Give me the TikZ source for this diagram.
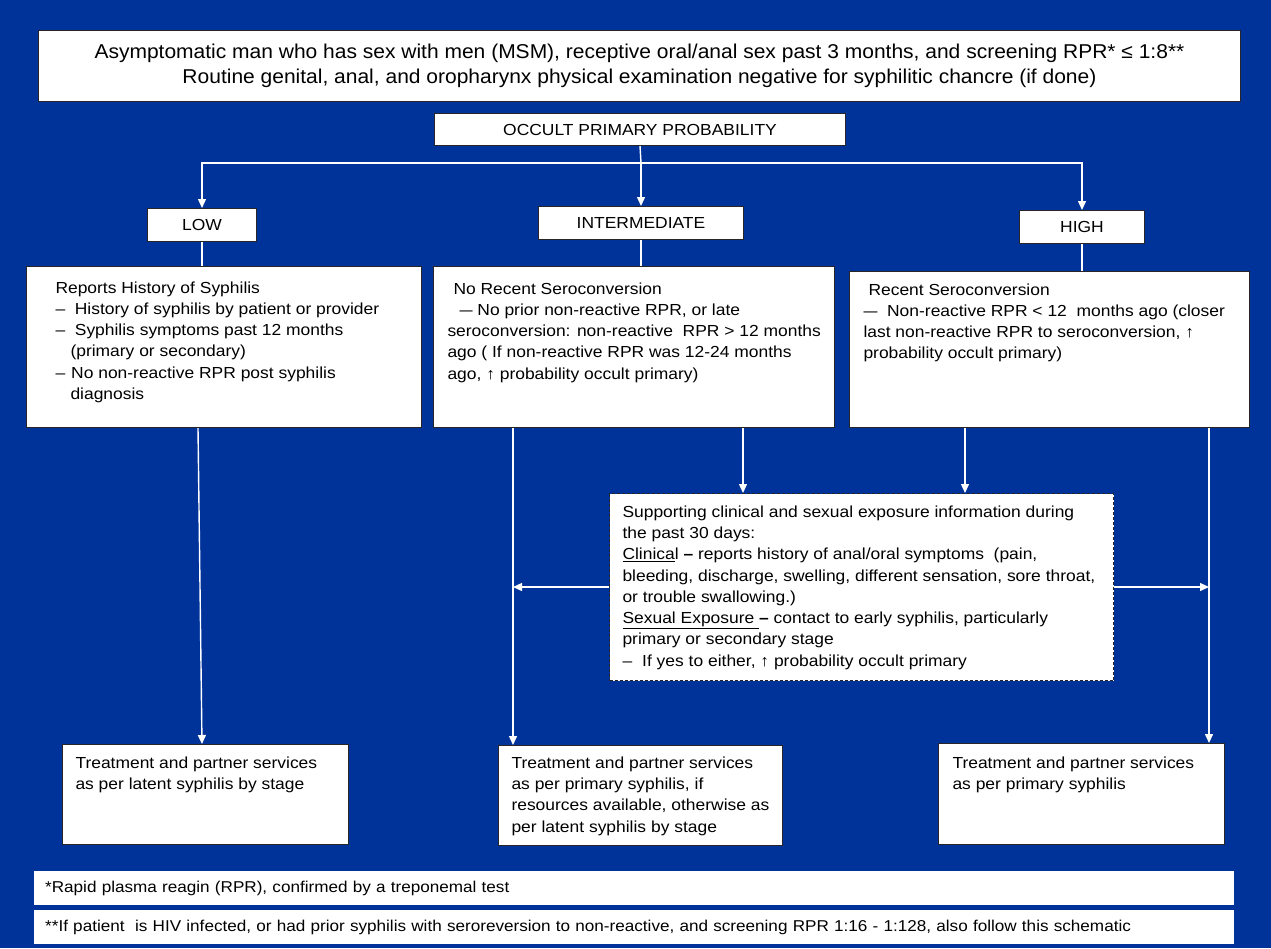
\documentclass[tikz,border=0pt]{standalone}
\usepackage{fontspec}
\setmainfont{Liberation Sans}
\newfontfamily\boxfamily[FakeStretch=1.09]{Liberation Sans}
\newfontfamily\topfamily[FakeStretch=1.05]{Liberation Sans}
\usetikzlibrary{arrows.meta}
\definecolor{bgblue}{RGB}{0,51,153}
\newcommand{\boxfont}{\boxfamily\fontsize{16}{21.3}\selectfont}
\newcommand{\cellbox}[5]{\parbox[t][#2pt][t]{#1pt}{\raggedright\leftskip=#3pt\vspace*{#4pt}#5}}
\newcommand{\shortdash}[1]{\scalebox{#1}[1]{—}}
\tikzset{card/.style={draw=black!85, fill=white, line width=1pt, anchor=north west, font=\boxfont},
  textcard/.style={card, inner sep=0pt},
  notecard/.style={fill=white, anchor=north west, inner xsep=11pt, inner ysep=0pt, align=left,
    text width=1178pt, minimum height=34pt, font=\boxfamily\fontsize{15.7}{18}\selectfont},
  conn/.style={white, line width=1.4pt},
  arr/.style={conn, -{Triangle[width=8pt,length=9pt]}}}

\begin{document}
\begin{tikzpicture}[x=1pt, y=-1pt]
      \fill[bgblue] (0,0) rectangle (1271,948);
      \useasboundingbox (0,0) rectangle (1271,948);

      \node [card, align=center, minimum width=1202pt, minimum height=71pt, font=\topfamily\fontsize{20}{25}\selectfont] (top) at (38,30) {Asymptomatic man who has sex with men (MSM), receptive oral/anal sex past 3 months, and screening RPR* ≤ 1:8**\\Routine genital, anal, and oropharynx physical examination negative for syphilitic chancre (if done)};
      \node [card, minimum width=411pt, minimum height=32pt] (occult) at (434,113) {OCCULT PRIMARY PROBABILITY};

      \node [card, minimum width=109pt, minimum height=33pt] (low) at (147,208) {LOW};
      \node [card, minimum width=205pt, minimum height=33pt] (inter) at (538,206) {INTERMEDIATE};
      \node [card, minimum width=125pt, minimum height=33pt] (high) at (1019,210) {HIGH};

      \node [textcard] (hist) at (26,266) {\cellbox{395}{161}{29}{15}{Reports History of Syphilis\\
        –~~History of syphilis by patient or provider\\
        –~~Syphilis symptoms past 12 months\\
        \hspace*{15pt}(primary or secondary)\\
        –\hspace*{6pt}No non-reactive RPR post syphilis\\
        \hspace*{15pt}diagnosis}};
      \node [textcard] (norec) at (433,266) {\cellbox{401}{161}{14}{16}{\hspace*{6pt}No Recent Seroconversion\\
        \hspace*{12pt}\shortdash{0.75} No prior non-reactive RPR, or late\\
        seroconversion: non-reactive~ RPR > 12 months\\
        ago ( If non-reactive RPR was 12-24 months\\
        ago, ↑ probability occult primary)}};
      \node [textcard] (recent) at (849,271) {\cellbox{400}{156}{14}{12}{\hspace*{5pt}Recent Seroconversion\\
        \shortdash{0.8}~~Non-reactive RPR < 12~ months ago (closer\\
        last non-reactive RPR to seroconversion, ↑\\
        probability occult primary)}};

      \node [textcard, dash pattern=on 3pt off 2pt] (support) at (609,493) {\cellbox{504}{187}{13}{12}{Supporting clinical and sexual exposure information during\\
        the past 30 days:\\
        \underline{Clinica}l \textbf{–} reports history of anal/oral symptoms~ (pain,\\
        bleeding, discharge, swelling, different sensation, sore throat,\\
        or trouble swallowing.)\\
        \underline{Sexual Exposure\ }\textbf{–} contact to early syphilis, particularly\\
        primary or secondary stage\\
        –\hspace*{10pt}If yes to either, ↑ probability occult primary}};

      \node [textcard] (treatL) at (62,744) {\cellbox{286}{100}{13}{12}{Treatment and partner services\\
        as per latent syphilis by stage}};
      \node [textcard] (treatM) at (498,745) {\cellbox{284}{100}{13}{11}{Treatment and partner services\\
        as per primary syphilis, if\\
        resources available, otherwise as\\
        per latent syphilis by stage}};
      \node [textcard] (treatR) at (938,743) {\cellbox{286}{101}{14}{13}{Treatment and partner services\\
        as per primary syphilis}};

      \node [notecard] (note1) at (34,871) {*Rapid plasma reagin (RPR), confirmed by a treponemal test};
      \node [notecard] (note2) at (34,910) {**If patient~ is HIV infected, or had prior syphilis with seroreversion to non-reactive, and screening RPR 1:16 - 1:128, also follow this schematic};

      \path (inter.north) ++(0,-43) coordinate (split);
      \draw [conn] (occult.south) -- (split);
      \draw [arr] (split) -| (low.north);
      \draw [arr] (split) -- (inter.north);
      \draw [arr] (split) -| (high.north);

      \draw [conn] (low.south) -- (low.south |- hist.north);
      \draw [conn] (inter.south) -- (inter.south |- norec.north);
      \draw [conn] (high.south) -- (high.south |- recent.north);

      \coordinate (mA) at ([xshift=80pt]norec.south west);
      \coordinate (mB) at ([xshift=310pt]norec.south west);
      \coordinate (rA) at ([xshift=116pt]recent.south west);
      \coordinate (rB) at ([xshift=360pt]recent.south west);

      \draw [arr] ([xshift=172pt]hist.south west) -- ([xshift=140pt]treatL.north west);
      \draw [arr] (mA) -- (mA |- treatM.north);
      \draw [arr] (mB) -- (mB |- support.north);
      \draw [arr] (rA) -- (rA |- support.north);
      \draw [arr] (rB) -- (rB |- treatR.north);
      \draw [arr] (support.west) -- (support.west -| mA);
      \draw [arr] (support.east) -- (support.east -| rB);
    \end{tikzpicture}
\end{document}
